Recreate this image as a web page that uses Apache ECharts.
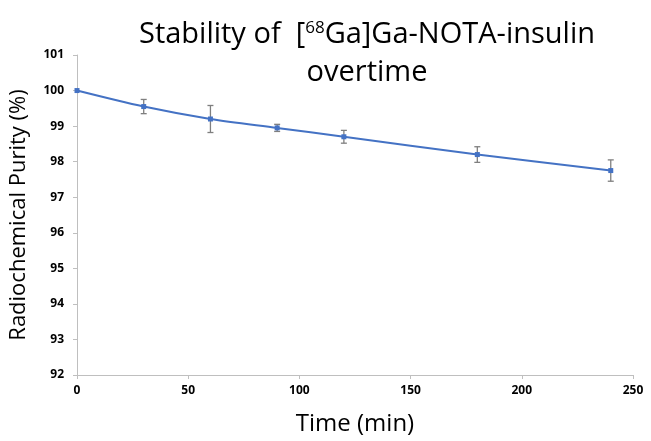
<!DOCTYPE html>
<html>
<head>
<meta charset="utf-8">
<script src="https://cdn.jsdelivr.net/npm/echarts@6/dist/echarts.min.js"></script>
<style>
  html, body { margin: 0; padding: 0; background: #fff; }
  #chart { width: 651px; height: 441px; }
</style>
</head>
<body>
<div id="chart"></div>
<script>
// time points (min), purity (%), and +/- error
var times = [0, 30, 60, 90, 120, 180, 240];
var purity = [100.0, 99.55, 99.2, 98.95, 98.7, 98.2, 97.75];
var errors = [0, 0.2, 0.38, 0.1, 0.18, 0.22, 0.3];
var yTicks = [92, 93, 94, 95, 96, 97, 98, 99, 100, 101];
var xTicks = [0, 50, 100, 150, 200, 250];

var chart = echarts.init(document.getElementById('chart'));

var lineData = times.map(function (t, i) {
    return [t, purity[i]];
});
var errData = times.map(function (t, i) {
    return [t, purity[i] - errors[i], purity[i] + errors[i]];
});

var fontFam = 'Open Sans';

var option = {
    animation: false,
    title: {
        text: 'Stability of  [{sup|68}Ga]Ga-NOTA-insulin\novertime',
        left: 362,
        textAlign: 'center',
        top: 11,
        textStyle: {
            fontFamily: fontFam,
            fontSize: 29,
            fontWeight: 'normal',
            color: '#000',
            lineHeight: 38,
            rich: {
                sup: {
                    fontFamily: fontFam,
                    fontSize: 17,
                    color: '#000',
                    verticalAlign: 'top',
                    lineHeight: 38,
                    padding: [4, 0, 0, 0]
                }
            }
        }
    },
    grid: {
        left: 77,
        right: 18,
        top: 55,
        bottom: 62
    },
    xAxis: {
        type: 'value',
        min: xTicks[0],
        max: xTicks[xTicks.length - 1],
        interval: 50,
        name: 'Time (min)',
        nameLocation: 'middle',
        nameGap: 37,
        nameTextStyle: { fontFamily: fontFam, fontSize: 24, color: '#000' },
        axisLine: { lineStyle: { color: '#bfbfbf', width: 1 } },
        axisTick: { show: true, length: 4, lineStyle: { color: '#bfbfbf' } },
        axisLabel: { fontFamily: fontFam, fontSize: 12, fontWeight: 'bold', color: '#000', margin: 10 },
        splitLine: { show: false }
    },
    yAxis: {
        type: 'value',
        min: yTicks[0],
        max: yTicks[yTicks.length - 1],
        interval: 1,
        name: 'Radiochemical Purity (%)',
        nameLocation: 'middle',
        nameGap: 47,
        nameTextStyle: { fontFamily: fontFam, fontSize: 22, color: '#000' },
        axisLine: { show: true, lineStyle: { color: '#bfbfbf', width: 1 } },
        axisTick: { show: true, length: 4, lineStyle: { color: '#bfbfbf' } },
        axisLabel: { fontFamily: fontFam, fontSize: 12, fontWeight: 'bold', color: '#000', margin: 13 },
        splitLine: { show: false }
    },
    series: [
        {
            type: 'custom',
            z: 1,
            data: errData,
            renderItem: function (params, api) {
                var x = api.value(0);
                var lo = api.coord([x, api.value(1)]);
                var hi = api.coord([x, api.value(2)]);
                var cap = 3;
                var style = { stroke: '#7f7f7f', lineWidth: 1.3 };
                if (api.value(2) - api.value(1) === 0) {
                    return null;
                }
                return {
                    type: 'group',
                    children: [
                        { type: 'line', shape: { x1: hi[0], y1: hi[1], x2: lo[0], y2: lo[1] }, style: style },
                        { type: 'line', shape: { x1: hi[0] - cap, y1: hi[1], x2: hi[0] + cap, y2: hi[1] }, style: style },
                        { type: 'line', shape: { x1: lo[0] - cap, y1: lo[1], x2: lo[0] + cap, y2: lo[1] }, style: style }
                    ]
                };
            }
        },
        {
            type: 'line',
            z: 2,
            data: lineData,
            smooth: 0.3,
            symbol: 'rect',
            symbolSize: 5,
            lineStyle: { color: '#4472c4', width: 2 },
            itemStyle: { color: '#4472c4' }
        }
    ]
};

chart.setOption(option);
</script>
</body>
</html>
